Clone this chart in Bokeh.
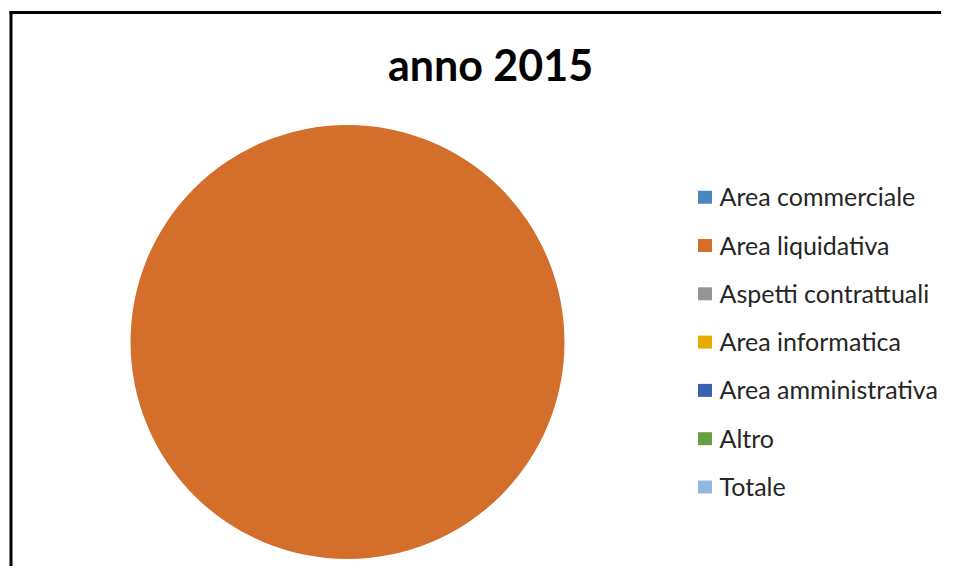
import math
from bokeh.plotting import figure
from bokeh.models import Range1d, ColumnDataSource
from bokeh.core.properties import value
from bokeh.embed import file_html
from bokeh.resources import INLINE

# ---- data ----
title_text = "anno 2015"
categories = ["Area commerciale", "Area liquidativa", "Aspetti contrattuali",
              "Area informatica", "Area amministrativa", "Altro", "Totale"]
values = [0, 100, 0, 0, 0, 0, 0]
colors = ["#4A86C0", "#D46E2B", "#959595", "#E6AC00", "#3A62AE", "#66A043", "#93B8E0"]

# ---- layout (pixels) ----
W, H = 941, 566
cx, cy, R = 347, 341.5, 217
leg_x, leg_y0, leg_dy = 704.5, 196.7, 48.3
bx, by = 10.5, 12

total = float(sum(values))
starts, ends, wcols = [], [], []
acc = 0.0
for v, c in zip(values, colors):
    s = 2 * math.pi * acc / total
    acc += v
    e = 2 * math.pi * acc / total
    if v > 0:  # zero-size slices are not drawn
        starts.append(s)
        ends.append(e)
        wcols.append(c)

p = figure(width=W, height=H, output_backend="svg", toolbar_location=None,
           x_range=Range1d(0, W), y_range=Range1d(H, 0), min_border=0)
p.axis.visible = False
p.grid.visible = False
p.outline_line_color = None
p.background_fill_color = "white"
p.border_fill_color = "white"

src = ColumnDataSource(dict(start=starts, end=ends, color=wcols))
p.wedge(x=cx, y=cy, radius=R, start_angle="start", end_angle="end",
        fill_color="color", line_color=None, source=src)

# legend
ly = [leg_y0 + i * leg_dy for i in range(len(categories))]
lsrc = ColumnDataSource(dict(y=ly, ty=[y - 1 for y in ly], color=colors, cat=categories))
p.rect(x=leg_x, y="y", width=14, height=13, fill_color="color", line_color=None, source=lsrc)
p.text(x=leg_x + 14.5, y="ty", text="cat", source=lsrc, text_font=value("Lato"),
       text_font_size="25px", text_color="#262626", text_baseline="middle", text_align="left")

# title
p.text(x=[490], y=[64], text=[title_text], text_font=value("Lato"), text_font_size="43px",
       text_font_style="bold", text_color="black", text_align="center", text_baseline="middle")

# chart border (top and left edges visible)
p.segment(x0=[bx - 1.5, bx], y0=[by, by - 1.5], x1=[W, bx], y1=[by, H],
          line_color="black", line_width=3)

open("out.html", "w").write(file_html(p, INLINE))
